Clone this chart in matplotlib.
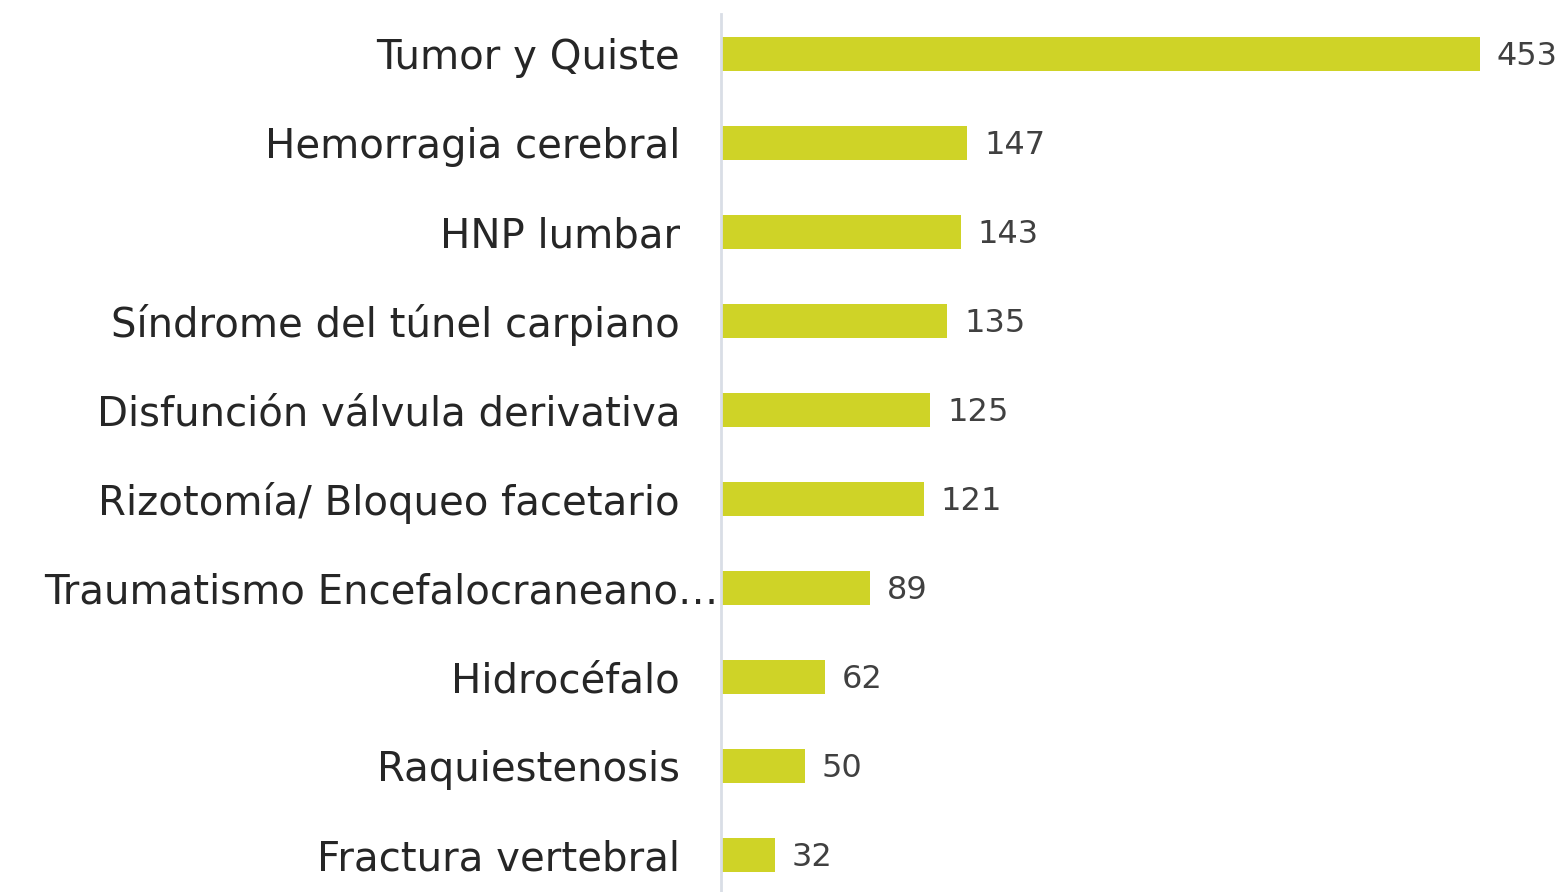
import matplotlib.pyplot as plt
import matplotlib.transforms as mtransforms

plt.rcParams['font.family'] = ['DejaVu Sans']

categories = ["Tumor y Quiste", "Hemorragia cerebral", "HNP lumbar",
              "Síndrome del túnel carpiano", "Disfunción válvula derivativa",
              "Rizotomía/ Bloqueo facetario", "Traumatismo Encefalocraneano…",
              "Hidrocéfalo", "Raquiestenosis", "Fractura vertebral"]
values = [453, 147, 143, 135, 125, 121, 89, 62, 50, 32]

bar_color = "#CFD327"
text_color = "#262626"

fig = plt.figure(figsize=(15.64, 8.92), dpi=100)
ax = fig.add_axes([721 / 1564, -7.5 / 892, 843 / 1564, 890 / 892])

y = list(range(len(categories)))
ax.barh(y, values, height=0.39, color=bar_color, zorder=2)
ax.set_ylim(len(categories) - 0.5, -0.5)
ax.set_xlim(0, 503)

for yi, v in zip(y, values):
    ax.text(v + 10, yi + 0.03, str(v), va="center", ha="left", fontsize=23, color="#404040")

ax.set_yticks(y)
ax.set_yticklabels(categories, fontsize=29, color=text_color)
ax.tick_params(axis="y", length=0, pad=29.5)
ax.tick_params(axis="x", bottom=False, labelbottom=False)
# long label is cut off by the axis in the original, so it sits further right
long_lab = ax.get_yticklabels()[6]
long_lab.set_transform(long_lab.get_transform() +
                       mtransforms.ScaledTranslation(38 / 100, 0, fig.dpi_scale_trans))

for s in ["top", "right", "bottom"]:
    ax.spines[s].set_visible(False)
ax.spines["left"].set_color("#D9DEE6")
ax.spines["left"].set_linewidth(2)
ax.spines["left"].set_bounds(len(categories) - 0.5 + 0.1, -0.5 + 0.05)

fig.savefig("out.png", dpi=100)
